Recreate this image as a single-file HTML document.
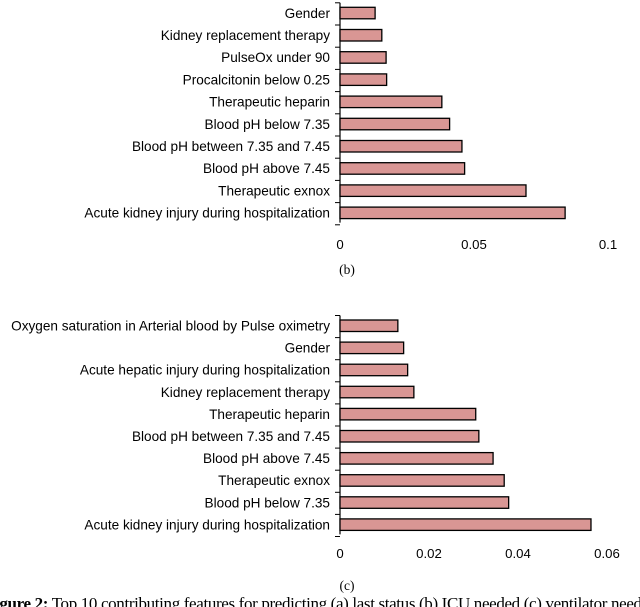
<!DOCTYPE html>
<html><head><meta charset="utf-8"><style>
html,body{margin:0;padding:0;background:#fff;width:640px;height:607px;overflow:hidden;position:relative}
svg{position:absolute;left:0;top:0}
.capwrap{position:absolute;left:0;top:590px;width:640px;height:17px;overflow:hidden}
.cap{position:absolute;left:-15px;top:4px;font:17px "Liberation Serif",serif;white-space:nowrap;letter-spacing:-0.35px}
</style></head><body>
<svg id="chart" width="640" height="607"></svg>
<div class="capwrap"><div class="cap"><b>Figure 2:</b> Top 10 contributing features for predicting (a) last status (b) ICU needed (c) ventilator needed</div></div>
<script>
const catsB = ["Gender","Kidney replacement therapy","PulseOx under 90","Procalcitonin below 0.25","Therapeutic heparin","Blood pH below 7.35","Blood pH between 7.35 and 7.45","Blood pH above 7.45","Therapeutic exnox","Acute kidney injury during hospitalization"];
const valsB = [0.0131,0.0156,0.0172,0.0174,0.038,0.0409,0.0455,0.0465,0.0694,0.084];
const ticksB = [0,0.05,0.1];
const tickLabelsB = ["0","0.05","0.1"];
const catsC = ["Oxygen saturation in Arterial blood by Pulse oximetry","Gender","Acute hepatic injury during hospitalization","Kidney replacement therapy","Therapeutic heparin","Blood pH between 7.35 and 7.45","Blood pH above 7.45","Therapeutic exnox","Blood pH below 7.35","Acute kidney injury during hospitalization"];
const valsC = [0.0130,0.0143,0.0152,0.0166,0.0305,0.0312,0.0344,0.0369,0.0379,0.0564];
const ticksC = [0,0.02,0.04,0.06];
const tickLabelsC = ["0","0.02","0.04","0.06"];

const NS="http://www.w3.org/2000/svg";
const svg=document.getElementById('chart');
function mk(tag,attrs,parent){const e=document.createElementNS(NS,tag);for(const k in attrs)e.setAttribute(k,attrs[k]);(parent||svg).appendChild(e);return e;}

function drawChart(id,cats,vals,ticks,labels,x0,x1,vmax,yTop,step,tickLabelY,subLabel,subY){
  const g=mk('g',{});
  
  
  const xs=v=>x0+(v/vmax)*(x1-x0);
  const axisTop=yTop-4.5, axisBot=yTop+9*step+15.5;
  const ax=mk('line',{x1:x0,x2:x0,y1:axisTop,y2:axisBot,stroke:'#000','stroke-width':1.2},g);
  
  
  for(let i=0;i<=cats.length;i++){
    const ty=axisTop+i*step;
    const t=mk('line',{x1:x0-5,x2:x0,y1:ty,y2:ty,stroke:'#000','stroke-width':1},g);
    
    
  }
  cats.forEach((c,i)=>{
    const y=yTop+i*step;
    const r=mk('rect',{x:x0,y:y,width:xs(vals[i])-x0,height:11.5,fill:'#d99694',stroke:'#000','stroke-width':1.3},g);
    
    
    const tx=mk('text',{x:x0-10,y:y+10.5,'text-anchor':'end','font-family':'Liberation Sans, sans-serif','font-size':13.6,fill:'#000'},g);
    tx.textContent=c;
    
    
  });
  ticks.forEach((t,i)=>{
    const tx=mk('text',{x:xs(t),y:tickLabelY,'text-anchor':'middle','font-family':'Liberation Sans, sans-serif','font-size':13.2,fill:'#000'},g);
    tx.textContent=labels[i];
    
    
  });
  const s=mk('text',{x:347,y:subY,'text-anchor':'middle','font-family':'Liberation Serif, serif','font-size':13.5,fill:'#000'},g);
  s.textContent=subLabel;
  
  
}
drawChart('chart-b-icu-needed',catsB,valsB,ticksB,tickLabelsB,340,608,0.1,7.3,22.2,249,'(b)',274);
drawChart('chart-c-ventilator',catsC,valsC,ticksC,tickLabelsC,340,607,0.06,320,22.1,558,'(c)',590);
</script>
</body></html>
